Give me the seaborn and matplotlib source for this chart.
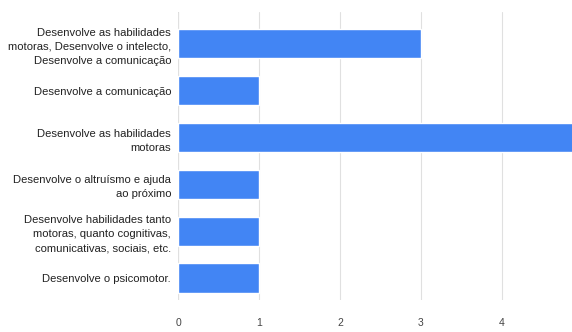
import matplotlib
matplotlib.use("Agg")
import matplotlib.pyplot as plt
import seaborn as sns
import pandas as pd

categories = [
    "Desenvolve as habilidades\nmotoras, Desenvolve o intelecto,\nDesenvolve a comunicação",
    "Desenvolve a comunicação",
    "Desenvolve as habilidades\nmotoras",
    "Desenvolve o altruísmo e ajuda\nao próximo",
    "Desenvolve habilidades tanto\nmotoras, quanto cognitivas,\ncomunicativas, sociais, etc.",
    "Desenvolve o psicomotor.",
]
values = [3, 1, 5, 1, 1, 1]
xticks = [0, 1, 2, 3, 4]

sns.set_theme(style="white")
plt.rcParams['font.family'] = ['Liberation Sans', 'DejaVu Sans']

df = pd.DataFrame({"cat": categories, "val": values})

fig = plt.figure(figsize=(5.72, 3.32), dpi=100)
ax = fig.add_axes([178/572, 1 - 300/332, 1 - 178/572, (300 - 12)/332])
sns.barplot(data=df, x="val", y="cat", color="#4285f4", saturation=1,
            width=0.62, ax=ax, orient="h")
ax.set_xlim(0, (572 - 178) / 81.0)
ax.set_ylim(5.47, -0.68)
ax.set_xticks(xticks)
ax.set_xticklabels([str(t) for t in xticks], fontsize=7.5, color="#444444")
ax.tick_params(axis="x", length=0, pad=13)
ax.tick_params(axis="y", length=0, pad=5, labelsize=8.1, labelcolor="#222222")
for lbl in ax.get_yticklabels():
    lbl.set_linespacing(1.5)
ax.set_xlabel("")
ax.set_ylabel("")
for s in ax.spines.values():
    s.set_visible(False)
ax.grid(axis="x", color="#e0e0e0", linewidth=0.8)
ax.set_axisbelow(True)
ax.axvline(0, color="#bbbbbb", linewidth=1.5, zorder=0.5)
fig.savefig("out.png", dpi=100)
